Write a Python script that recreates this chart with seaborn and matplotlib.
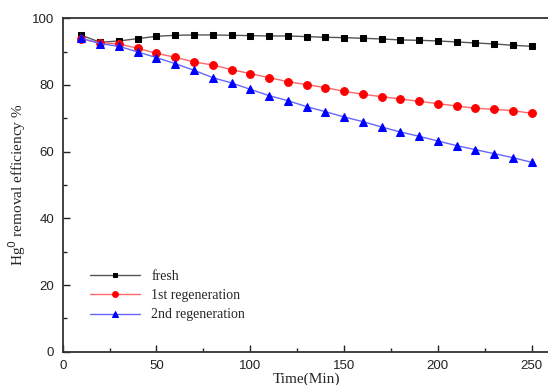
import matplotlib
matplotlib.use("Agg")
import matplotlib.pyplot as plt
import pandas as pd
import seaborn as sns
from matplotlib.ticker import MultipleLocator

time_min = [10, 20, 30, 40, 50, 60, 70, 80, 90, 100, 110, 120, 130,
            140, 150, 160, 170, 180, 190, 200, 210, 220, 230, 240, 250]
fresh = [94.9, 92.8, 93.2, 93.9, 94.6, 94.9, 95.0, 95.0, 94.9, 94.8, 94.7,
         94.7, 94.5, 94.3, 94.2, 94.0, 93.8, 93.5, 93.4, 93.2, 92.9, 92.6,
         92.3, 91.9, 91.6]
first_regen = [93.7, 92.7, 92.3, 91.0, 89.5, 88.3, 86.9, 86.0, 84.6, 83.4,
               82.2, 81.0, 80.1, 79.2, 78.1, 77.2, 76.5, 75.8, 75.1, 74.4,
               73.7, 73.0, 72.7, 72.3, 71.5]
second_regen = [94.0, 92.4, 91.6, 89.9, 88.2, 86.4, 84.4, 82.2, 80.6, 78.7,
                76.8, 75.3, 73.5, 72.0, 70.4, 69.0, 67.4, 65.9, 64.6, 63.2,
                61.8, 60.6, 59.4, 58.2, 56.8]

labels = ["fresh", "1st regeneration", "2nd regeneration"]

df = pd.DataFrame({
    "time": time_min * 3,
    "value": fresh + first_regen + second_regen,
    "series": [labels[0]] * 25 + [labels[1]] * 25 + [labels[2]] * 25,
})

sns.set_style("ticks")

fig = plt.figure(figsize=(5.48, 3.85), dpi=100)
ax = fig.add_axes([0.1144, 0.0865, 0.890, 0.866])

styles = {
    "fresh": dict(line="#555555", face="black", marker="s", ms=4.6),
    "1st regeneration": dict(line="#ff6666", face="red", marker="o", ms=5.6),
    "2nd regeneration": dict(line="#6666ff", face="blue", marker="^", ms=6.0),
}

for name in labels:
    st = styles[name]
    sub = df[df["series"] == name]
    sns.lineplot(data=sub, x="time", y="value", ax=ax, color=st["line"],
                 marker=st["marker"], markersize=st["ms"],
                 markerfacecolor=st["face"], markeredgecolor=st["face"],
                 linewidth=1.0, label=name)

ax.set_xlim(0, 260)
ax.set_ylim(0, 100)
ax.xaxis.set_major_locator(MultipleLocator(50))
ax.xaxis.set_minor_locator(MultipleLocator(25))
ax.yaxis.set_major_locator(MultipleLocator(20))
ax.yaxis.set_minor_locator(MultipleLocator(10))
ax.tick_params(which="major", direction="in", length=5, width=1,
               labelsize=9.5, pad=6, colors="#222222")
ax.tick_params(which="minor", direction="in", length=3, width=1,
               colors="#222222")
for lab in ax.get_xticklabels() + ax.get_yticklabels():
    lab.set_family("Liberation Sans")

for side in ["top", "left", "bottom", "right"]:
    ax.spines[side].set_visible(True)
    ax.spines[side].set_linewidth(1.3)
    ax.spines[side].set_color("#333333")

ax.set_xlabel("Time(Min)", family="Liberation Serif", fontsize=11, labelpad=0)
ax.set_ylabel("Hg$^{0}$ removal efficiency %", family="Liberation Serif",
              fontsize=11, labelpad=3)

leg = ax.legend(loc="upper left", bbox_to_anchor=(0.045, 0.262), frameon=False,
                prop={"family": "Liberation Serif", "size": 10},
                handlelength=3.6, handletextpad=0.8, labelspacing=0.45,
                markerscale=0.75, borderaxespad=0)

fig.savefig("out.png", dpi=100)
